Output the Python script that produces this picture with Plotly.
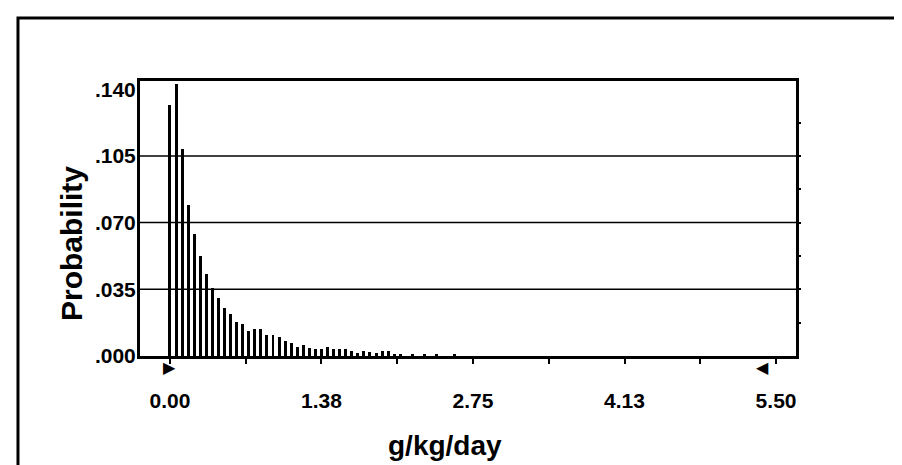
import plotly.graph_objects as go

# ---- data ----
bin_width = 0.055
probabilities = [
    0.1315, 0.1426, 0.1084, 0.0794, 0.0640, 0.0524, 0.0431, 0.0356, 0.0304, 0.0253,
    0.0221, 0.0181, 0.0168, 0.0130, 0.0140, 0.0140, 0.0110, 0.0110, 0.0101, 0.0078,
    0.0067, 0.0047, 0.0059, 0.0043, 0.0037, 0.0037, 0.0047, 0.0037, 0.0037, 0.0037,
    0.0028, 0.0016, 0.0026, 0.0019, 0.0016, 0.0026, 0.0026, 0.0012, 0.0009, 0.0,
    0.0012, 0.0, 0.0012, 0.0, 0.0012, 0.0, 0.0, 0.0012,
]
bin_starts = [i * bin_width for i in range(len(probabilities))]

x_tick_vals = [0.0, 0.6875, 1.375, 2.0625, 2.75, 3.4375, 4.125, 4.8125, 5.5]
x_tick_text = ["0.00", "", "1.38", "", "2.75", "", "4.13", "", "5.50"]
y_tick_vals = [0.0, 0.035, 0.070, 0.105, 0.140]
y_tick_text = [".000", ".035", ".070", ".105", ".140"]
grid_vals = [0.035, 0.070, 0.105]
right_tick_vals = [0.0175, 0.035, 0.0525, 0.070, 0.0875, 0.105, 0.1225]
grabber_x = [0.0, 5.38]
grabber_glyphs = ["\u25B6", "\u25C0"]

x_title = "g/kg/day"
y_title = "Probability"

FONT = "Liberation Sans, Arial, sans-serif"

fig = go.Figure()
fig.add_trace(go.Bar(
    x=bin_starts, y=probabilities, width=0.027,
    marker=dict(color="black", line=dict(width=0)),
    showlegend=False, hoverinfo="x+y",
))
# invisible trace so the right-hand tick axis is drawn
fig.add_trace(go.Scatter(x=[0], y=[0], yaxis="y2", mode="markers",
                         marker=dict(opacity=0), showlegend=False, hoverinfo="skip"))

# certainty grabbers just below the axis
for gx, glyph in zip(grabber_x, grabber_glyphs):
    fig.add_annotation(x=gx, y=-0.04, xref="x", yref="paper", text=glyph, showarrow=False,
                       xanchor="center", yanchor="middle",
                       font=dict(family="DejaVu Sans", size=16, color="black"))

for g in grid_vals:
    fig.add_shape(type="line", xref="paper", x0=0, x1=1, yref="y", y0=g, y1=g,
                  line=dict(color="black", width=1.5), layer="below")

# outer border
fig.add_shape(type="rect", xref="paper", yref="paper",
              x0=-0.186, x1=1.160, y0=-0.411, y1=1.229,
              line=dict(color="black", width=3))

fig.add_annotation(text=x_title, xref="paper", yref="paper", x=(437 - 132) / 656,
                   y=(348 - 437) / 275, showarrow=False, xanchor="center", yanchor="middle",
                   font=dict(family=FONT, size=28, color="black", weight="bold"))
fig.add_annotation(text=y_title, xref="paper", yref="paper", x=(63 - 132) / 656,
                   y=(348 - 236) / 275, showarrow=False, textangle=-90,
                   xanchor="center", yanchor="middle",
                   font=dict(family=FONT, size=30, color="black", weight="bold"))

fig.update_layout(
    width=902, height=465,
    margin=dict(l=132, r=114, t=73, b=117),
    paper_bgcolor="white", plot_bgcolor="white",
    bargap=0,
    xaxis=dict(
        range=[-0.272, 5.681], tickvals=x_tick_vals, ticktext=x_tick_text,
        ticks="outside", ticklen=5, tickwidth=2, tickcolor="black",
        ticklabelstandoff=19,
        showgrid=False, zeroline=False,
        showline=True, linecolor="black", linewidth=3, mirror=True,
        tickfont=dict(family=FONT, size=21, color="black", weight="bold"),
    ),
    yaxis=dict(
        range=[0, 0.1443], tickvals=y_tick_vals, ticktext=y_tick_text,
        ticks="", showgrid=False, zeroline=False, ticklabelstandoff=-3,
        showline=True, linecolor="black", linewidth=3, mirror=True,
        tickfont=dict(family=FONT, size=21, color="black", weight="bold"),
    ),
    yaxis2=dict(
        range=[0, 0.1443], overlaying="y", side="right", tickvals=right_tick_vals,
        ticks="outside", ticklen=4, tickwidth=2, tickcolor="black",
        showticklabels=False, showgrid=False, zeroline=False, showline=False,
    ),
)

fig.write_html("out.html")
